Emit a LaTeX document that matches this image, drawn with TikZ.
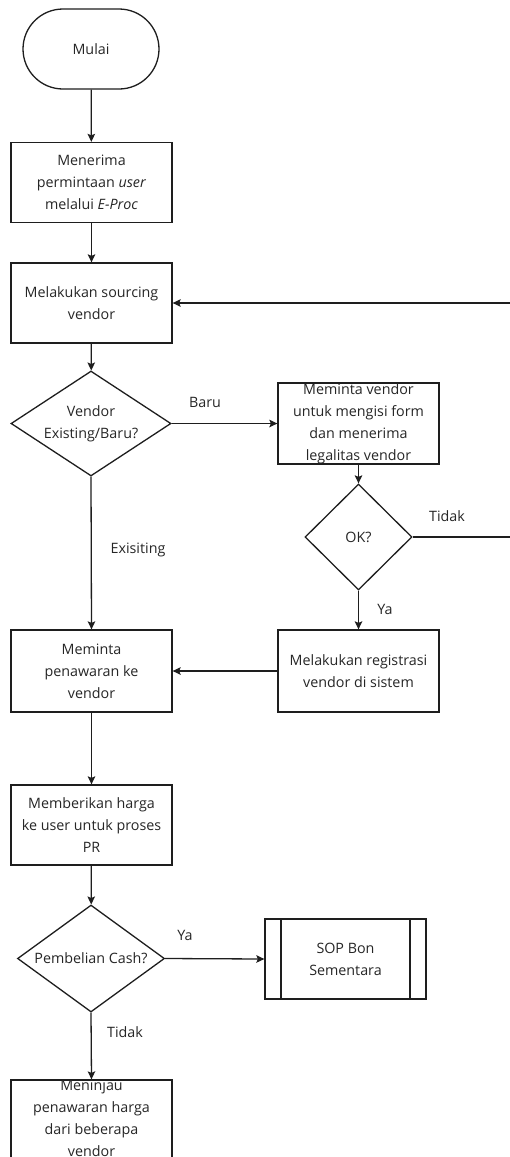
\documentclass[tikz,border=0pt]{standalone}
\usepackage{fontspec}
\setmainfont{Open Sans}
\usetikzlibrary{arrows.meta,shapes.geometric,shapes.misc}
\definecolor{ink}{HTML}{1E1E1E}
\definecolor{txtc}{HTML}{262626}
\tikzset{
  box/.style={draw=ink,line width=1.3pt,rectangle,minimum width=161pt,minimum height=80pt,inner sep=0pt},
  dia/.style={draw=ink,line width=1.3pt,diamond,inner sep=0pt},
  term/.style={draw=ink,line width=1.3pt,rectangle,rounded corners=40pt,minimum width=136pt,minimum height=80pt,inner sep=0pt},
  txt/.style={text=txtc,font=\fontsize{14.3}{22}\selectfont,align=center,inner sep=0pt},
  lbl/.style={text=txtc,font=\fontsize{14.3}{16}\selectfont,inner sep=0pt},
  arr/.style={draw=ink,line width=1.3pt,-{Stealth[length=8pt,width=7.5pt,inset=1.5pt]}},
  ln/.style={draw=ink,line width=1.3pt},
}
\begin{document}
\begin{tikzpicture}[x=1pt,y=-1pt]
\useasboundingbox[fill=white] (0,0) rectangle (509,1157);
% shapes
\node[term] (start) at (91,49) {};
\node[txt] (startt) at (start.center) {Mulai};
\node[box] (b1) at (91.5,182.5) {};
\node[txt] (b1t) at (b1.center) {Menerima\\permintaan \textit{user}\\melalui \textit{E-Proc}};
\node[box] (b2) at (91.5,303) {};
\node[txt] (b2t) at (b2.center) {Melakukan sourcing\\vendor};
\node[dia,minimum width=160pt,minimum height=105pt] (d1) at (91,423.5) {};
\node[txt] (d1t) at (d1.center) {Vendor\\Existing/Baru?};
\node[box,minimum height=81pt] (b3) at (358.5,423.5) {};
\node[txt] (b3t) at (b3.center) {Meminta vendor\\untuk mengisi form\\dan menerima\\legalitas vendor};
\node[dia,minimum width=107pt,minimum height=106pt] (d2) at (358.5,537) {};
\node[txt] (d2t) at (d2.center) {OK?};
\node[box,minimum height=82pt] (b4) at (358.5,671) {};
\node[txt] (b4t) at (b4.center) {Melakukan registrasi\\vendor di sistem};
\node[box,minimum height=82pt] (b5) at (91.5,671) {};
\node[txt] (b5t) at (b5.center) {Meminta\\penawaran ke\\vendor};
\node[box] (b6) at (91.5,825) {};
\node[txt] (b6t) at (b6.center) {Memberikan harga\\ke user untuk proses\\PR};
\node[dia,minimum width=147pt,minimum height=107pt] (d3) at (91,958.5) {};
\node[txt] (d3t) at (d3.center) {Pembelian Cash?};
\node[box] (sop) at (345.5,959) {};
\node[txt] (sopt) at (sop.center) {SOP Bon\\Sementara};
\draw[ln] (281,919) -- (281,999) (410,919) -- (410,999);
\node[box] (b7) at (91.5,1120) {};
\node[txt] (b7t) at (91.5,1118) {Meninjau\\penawaran harga\\dari beberapa\\vendor};
% connectors
\draw[arr] (start) -- (b1);
\draw[arr] (b1) -- (b2);
\draw[arr] (b2) -- (d1);
\draw[arr] (d1.east) -- (b3.west);
\node[lbl] (lbaru) at (205,402) {Baru};
\draw[arr] (b3) -- (d2);
\coordinate (c1) at (512,537);
\coordinate (c2) at (512,303);
\draw[arr] (d2.east) -- (c1) -- (c2) -- (b2.east);
\node[lbl] (ltidak1) at (447,516) {Tidak};
\draw[arr] (d2.south) -- (b4.north);
\node[lbl] (lya1) at (385,609) {Ya};
\draw[arr] (b4.west) -- (b5.east);
\draw[arr] (d1.south) -- (b5.north);
\node[lbl] (lexi) at (138,550) {Exisiting};
\draw[arr] (b5) -- (b6);
\draw[arr] (b6) -- (d3);
\draw[arr] (d3.east) -- (sop.west);
\node[lbl] (lya2) at (185,935) {Ya};
\draw[arr] (d3.south) -- (b7.north);
\node[lbl] (ltidak2) at (125,1032) {Tidak};
\end{tikzpicture}
\end{document}
